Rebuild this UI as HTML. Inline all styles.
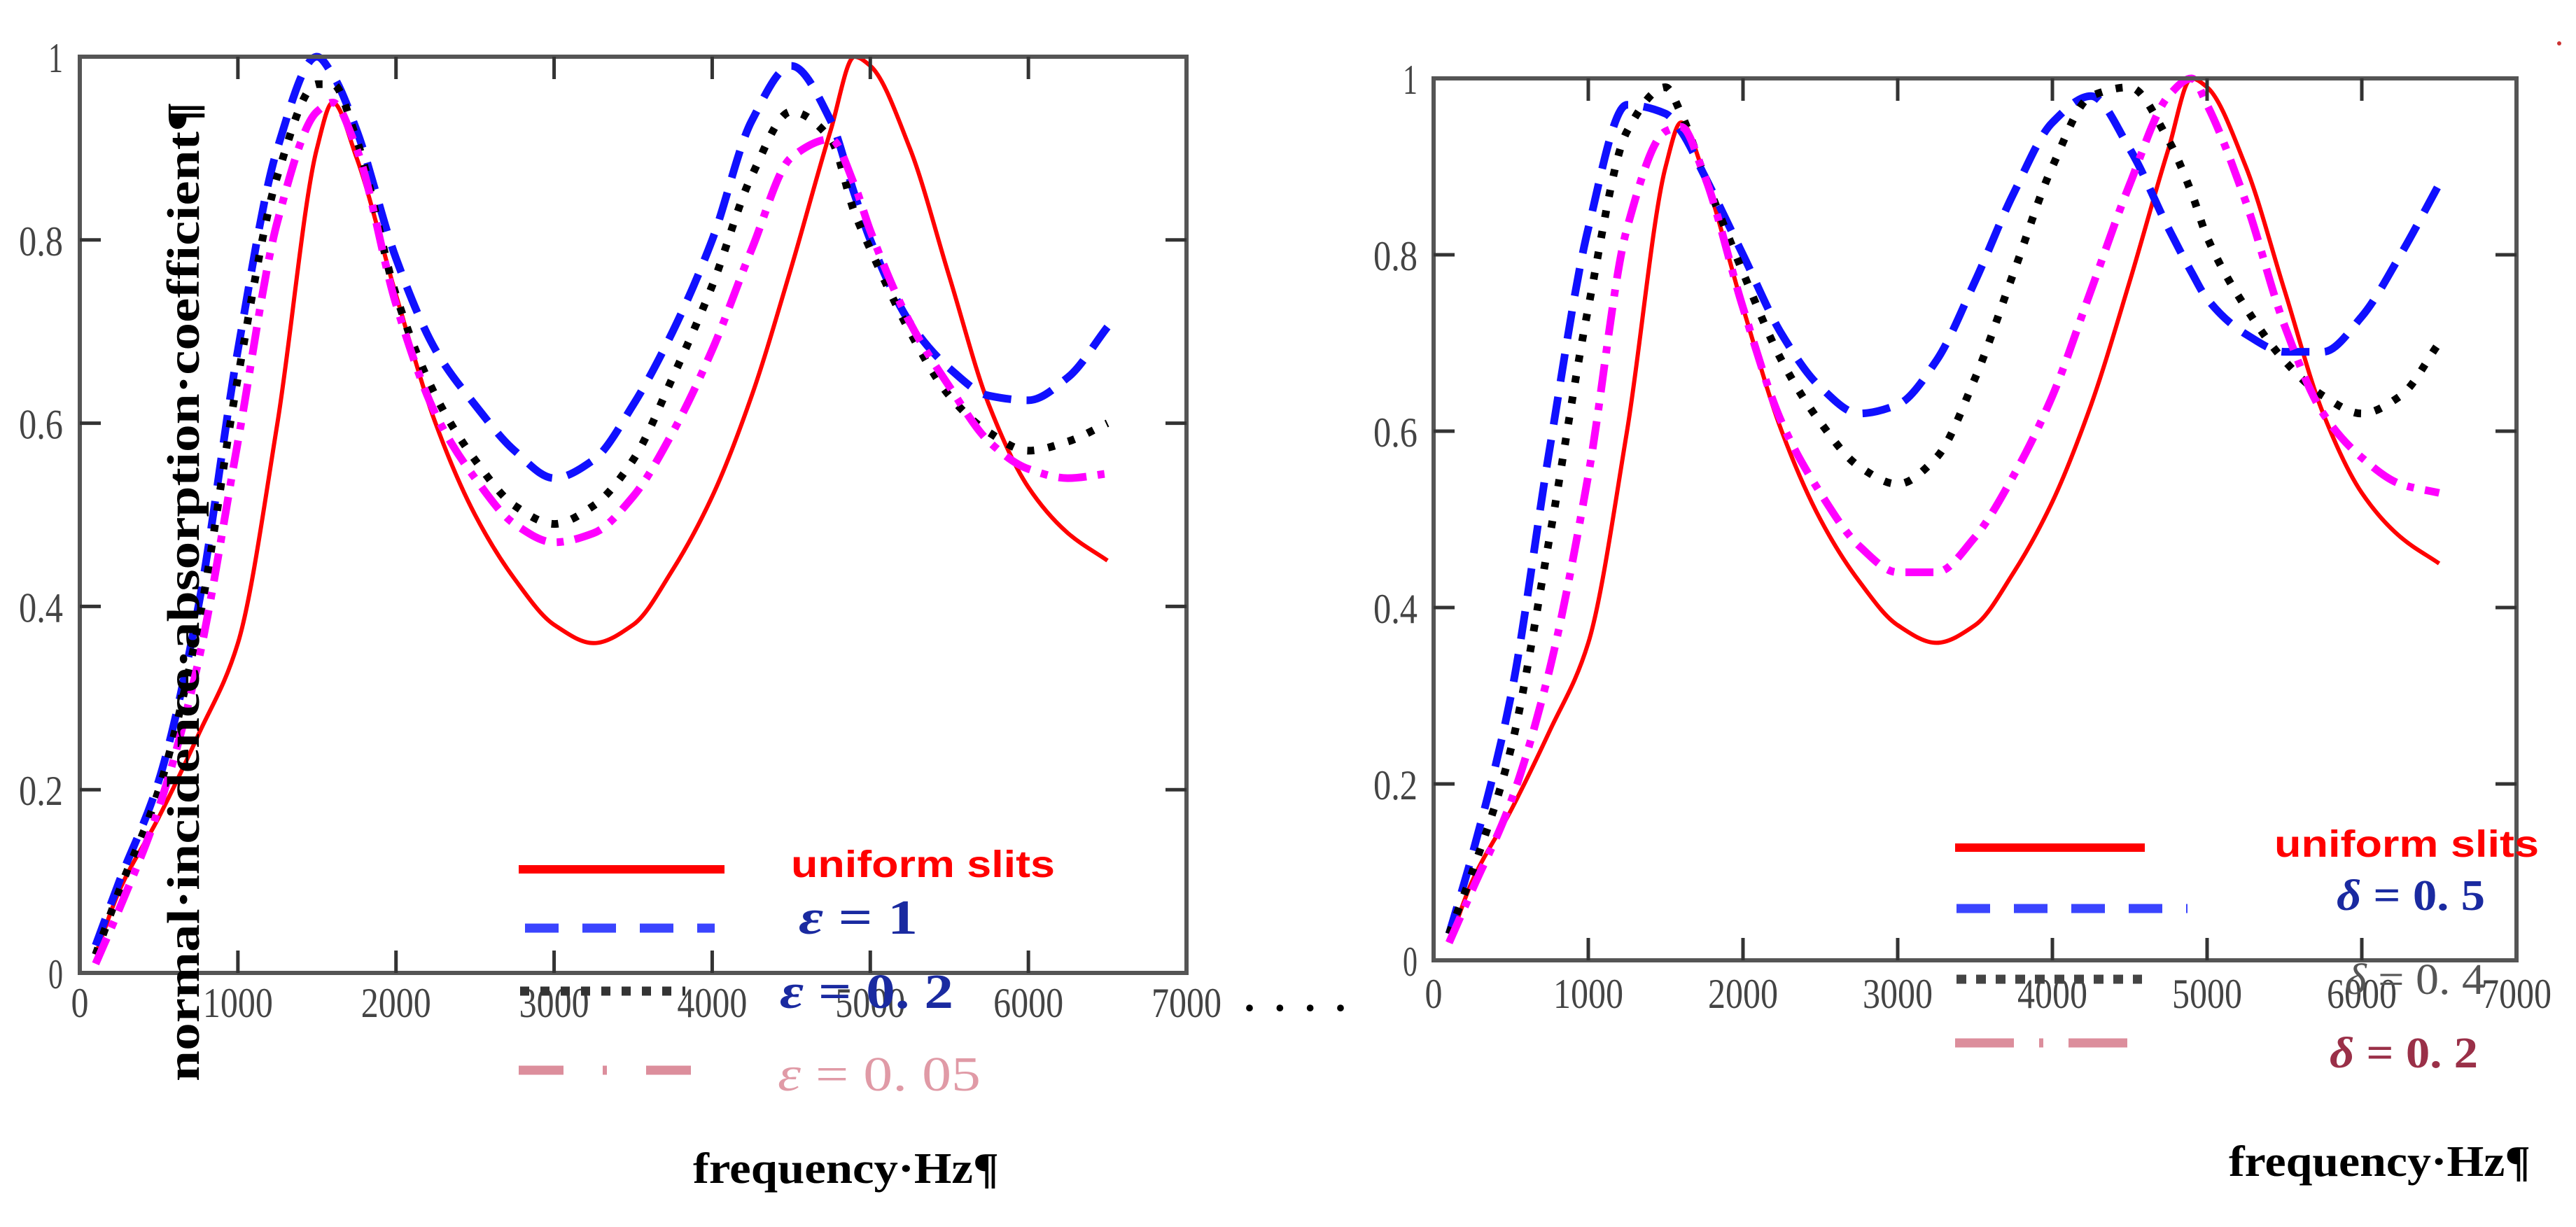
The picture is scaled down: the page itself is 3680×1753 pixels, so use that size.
<!DOCTYPE html>
<html><head><meta charset="utf-8"><style>
html,body{margin:0;padding:0;background:#fff;}
svg{display:block;}
</style></head><body>
<svg id="fig" width="3680" height="1753" viewBox="0 0 3680 1753" xmlns="http://www.w3.org/2000/svg">
</svg>
<script>
// ===== data =====
const freqs = [100,250,500,750,1000,1250,1500,1600,1750,2000,2250,2500,2750,3000,3250,3500,3750,4000,4250,4500,4750,4900,5000,5250,5500,5750,6000,6250,6500];
const uniformSlits = [.02,.09,.17,.26,.36,.60,.90,.95,.89,.74,.60,.50,.43,.38,.36,.38,.44,.52,.63,.77,.92,1.0,.99,.90,.76,.62,.53,.48,.45];
const eps1 = [.03,.10,.21,.40,.68,.90,1.0,.98,.92,.78,.68,.62,.57,.54,.56,.62,.70,.80,.93,.99,.93,.85,.80,.71,.66,.63,.625,.65,.705];
const eps02 = [.02,.09,.20,.38,.65,.87,.97,.97,.91,.74,.63,.56,.51,.49,.51,.56,.65,.75,.87,.94,.91,.83,.79,.70,.63,.59,.57,.58,.60];
const eps005 = [.01,.07,.18,.34,.58,.82,.94,.95,.90,.73,.61,.54,.49,.47,.48,.52,.59,.68,.79,.89,.91,.86,.81,.71,.64,.58,.55,.54,.545];
const delta05 = [.03,.12,.30,.58,.83,.97,.96,.94,.89,.80,.71,.65,.62,.63,.68,.77,.87,.95,.98,.92,.83,.78,.75,.71,.69,.69,.73,.80,.88];
const delta04 = [.03,.10,.24,.48,.74,.94,.99,.96,.89,.78,.68,.61,.56,.54,.57,.66,.78,.90,.98,.99,.93,.87,.82,.74,.68,.64,.62,.64,.70];
const delta02 = [.02,.08,.18,.33,.55,.83,.94,.945,.89,.74,.61,.53,.47,.44,.44,.48,.55,.64,.76,.88,.98,1.0,.97,.86,.72,.62,.57,.54,.53];
const xTicks = ["0","1000","2000","3000","4000","5000","6000","7000"];
const yTicks = ["0","0.2","0.4","0.6","0.8","1"];

const NS = "http://www.w3.org/2000/svg";
const svg = document.getElementById('fig');
function mk(tag, attrs, parent){
  const e = document.createElementNS(NS, tag);
  for (const k in attrs) e.setAttribute(k, attrs[k]);
  (parent||svg).appendChild(e);
  return e;
}
function monotonePath(pts){
  const n = pts.length;
  const dx = [], m = [], t = new Array(n);
  for (let i=0;i<n-1;i++){ dx.push(pts[i+1][0]-pts[i][0]); m.push((pts[i+1][1]-pts[i][1])/dx[i]); }
  t[0]=m[0]; t[n-1]=m[n-2];
  for (let i=1;i<n-1;i++){
    if (m[i-1]*m[i] <= 0) t[i]=0;
    else { const w1=2*dx[i]+dx[i-1], w2=dx[i]+2*dx[i-1]; t[i]=(w1+w2)/(w1/m[i-1]+w2/m[i]); }
  }
  let d = "M"+pts[0][0].toFixed(1)+","+pts[0][1].toFixed(1);
  for (let i=0;i<n-1;i++){
    const h = dx[i]/3;
    d += " C"+(pts[i][0]+h).toFixed(1)+","+(pts[i][1]+t[i]*h).toFixed(1)+" "+(pts[i+1][0]-h).toFixed(1)+","+(pts[i+1][1]-t[i+1]*h).toFixed(1)+" "+pts[i+1][0].toFixed(1)+","+pts[i+1][1].toFixed(1);
  }
  return d;
}
const styles = {
  red:{stroke:"#ff0000","stroke-width":6},
  blue:{stroke:"#1010ff","stroke-width":11,"stroke-dasharray":"40 22"},
  black:{stroke:"#000","stroke-width":11,"stroke-dasharray":"10 20"},
  magenta:{stroke:"#ff00ff","stroke-width":11,"stroke-dasharray":"40 16 10 16"}
};
function drawPlot(prefix, L, R, T, B, xLabY, yLabRight, series){
  const g = mk('g',{});
  
  
  const xs = f => L + (f/7000)*(R-L);
  const ys = v => B - v*(B-T);
  series.forEach(s=>{
    const pts = freqs.map((f,i)=>[xs(f), ys(s.vals[i])]);
    const p = mk('path', Object.assign({d:monotonePath(pts), fill:"none"}, styles[s.style]), g);
    
    
  });
  const fr = mk('rect',{x:L,y:T,width:R-L,height:B-T,fill:"none",stroke:"#555","stroke-width":6}, g);
  
  
  xTicks.forEach((t,i)=>{
    const x = xs(i*1000);
    if (i>0 && i<7){
      mk('line',{x1:x,y1:B,x2:x,y2:B-32,stroke:"#333","stroke-width":5},g);
      mk('line',{x1:x,y1:T,x2:x,y2:T+32,stroke:"#333","stroke-width":5},g);
    }
    const tx = mk('text',{x:x,y:xLabY,"text-anchor":"middle","font-family":"Liberation Serif, serif","font-size":60,fill:"#444",textLength:t.length*25,lengthAdjust:"spacingAndGlyphs"},g);
    tx.textContent = t;
    
    
  });
  yTicks.forEach((t,i)=>{
    const y = ys(i*0.2);
    if (i>0 && i<5){
      mk('line',{x1:L,y1:y,x2:L+30,y2:y,stroke:"#333","stroke-width":5},g);
      mk('line',{x1:R,y1:y,x2:R-30,y2:y,stroke:"#333","stroke-width":5},g);
    }
    const ty = mk('text',{x:yLabRight,y:y+22,"text-anchor":"end","font-family":"Liberation Serif, serif","font-size":60,fill:"#444",textLength:t.length*21,lengthAdjust:"spacingAndGlyphs"},g);
    ty.textContent = t;
    
    
  });
}
drawPlot('left', 114, 1695, 81, 1390, 1453, 90, [
  {name:'uniform-slits-line', vals:uniformSlits, style:'red'},
  {name:'eps-1-line', vals:eps1, style:'blue'},
  {name:'eps-0.2-line', vals:eps02, style:'black'},
  {name:'eps-0.05-line', vals:eps005, style:'magenta'}
]);
drawPlot('right', 2048, 3595, 112, 1372, 1440, 2025, [
  {name:'uniform-slits-line', vals:uniformSlits, style:'red'},
  {name:'delta-0.5-line', vals:delta05, style:'blue'},
  {name:'delta-0.4-line', vals:delta04, style:'black'},
  {name:'delta-0.2-line', vals:delta02, style:'magenta'}
]);
</script>
<svg style="position:absolute;left:0;top:0" width="3680" height="1753" viewBox="0 0 3680 1753" xmlns="http://www.w3.org/2000/svg">
  <text transform="translate(284,845) rotate(-90)" text-anchor="middle" font-family="Liberation Serif, serif" font-weight="bold" font-size="66" fill="#000" textLength="1400" lengthAdjust="spacingAndGlyphs">normal·incidence·absorption·coefficient¶</text>
  <g>
    <line x1="741" y1="1242" x2="1035" y2="1242" stroke="#ff0000" stroke-width="12"/>
    <text x="1130" y="1253" font-family="Liberation Sans, sans-serif" font-weight="bold" font-size="54" fill="#ff0000" textLength="377" lengthAdjust="spacingAndGlyphs">uniform slits</text>
    <line x1="750" y1="1326" x2="1021" y2="1326" stroke="#3a44ff" stroke-width="13" stroke-dasharray="48 34"/>
    <text x="1141" y="1334" font-family="Liberation Serif, serif" font-weight="bold" font-size="70" fill="#1a2aa0" textLength="170" lengthAdjust="spacingAndGlyphs"><tspan font-style="italic">ε</tspan> = 1</text>
    <line x1="743" y1="1416" x2="979" y2="1416" stroke="#333" stroke-width="13" stroke-dasharray="13 16"/>
    <text x="1114" y="1440" font-family="Liberation Serif, serif" font-weight="bold" font-size="70" fill="#1a2aa0" textLength="248" lengthAdjust="spacingAndGlyphs"><tspan font-style="italic">ε</tspan> = 0. 2</text>
    <line x1="741" y1="1529" x2="1012" y2="1529" stroke="#dc8e9c" stroke-width="13" stroke-dasharray="64 56 6 56"/>
    <text x="1111" y="1558" font-family="Liberation Serif, serif" font-size="70" fill="#e09aa6" textLength="290" lengthAdjust="spacingAndGlyphs"><tspan font-style="italic">ε</tspan> = 0. 05</text>
  </g>
  <text x="990" y="1690" font-family="Liberation Serif, serif" font-weight="bold" font-size="62" fill="#000" textLength="437" lengthAdjust="spacingAndGlyphs">frequency·Hz¶</text>
  <text x="1775" y="1460" font-family="Liberation Serif, serif" font-weight="bold" font-size="60" fill="#000" textLength="150" lengthAdjust="spacing">· · · ·</text>
  <g>
    <line x1="2793" y1="1211" x2="3064" y2="1211" stroke="#ff0000" stroke-width="12"/>
    <text x="3249" y="1224" font-family="Liberation Sans, sans-serif" font-weight="bold" font-size="54" fill="#ff0000" textLength="378" lengthAdjust="spacingAndGlyphs">uniform slits</text>
    <line x1="2795" y1="1298" x2="3125" y2="1298" stroke="#3a44ff" stroke-width="13" stroke-dasharray="48 34"/>
    <text x="3338" y="1300" font-family="Liberation Serif, serif" font-weight="bold" font-size="62" fill="#1a2aa0" textLength="212" lengthAdjust="spacingAndGlyphs"><tspan font-style="italic">δ</tspan> = 0. 5</text>
    <line x1="2795" y1="1399" x2="3060" y2="1399" stroke="#444" stroke-width="13" stroke-dasharray="14 14"/>
    <text x="3350" y="1420" font-family="Liberation Serif, serif" font-size="62" fill="#555" textLength="200" lengthAdjust="spacingAndGlyphs"><tspan font-style="italic">δ</tspan> = 0. 4</text>
    <line x1="2793" y1="1490" x2="3064" y2="1490" stroke="#dc8e9c" stroke-width="13" stroke-dasharray="84 36 6 36"/>
    <text x="3328" y="1525" font-family="Liberation Serif, serif" font-weight="bold" font-size="62" fill="#9a3048" textLength="212" lengthAdjust="spacingAndGlyphs"><tspan font-style="italic">δ</tspan> = 0. 2</text>
  </g>
  <text x="3184" y="1680" font-family="Liberation Serif, serif" font-weight="bold" font-size="62" fill="#000" textLength="431" lengthAdjust="spacingAndGlyphs">frequency·Hz¶</text>
  <circle cx="3656" cy="62" r="3" fill="#c33"/>
</svg>
</body></html>
